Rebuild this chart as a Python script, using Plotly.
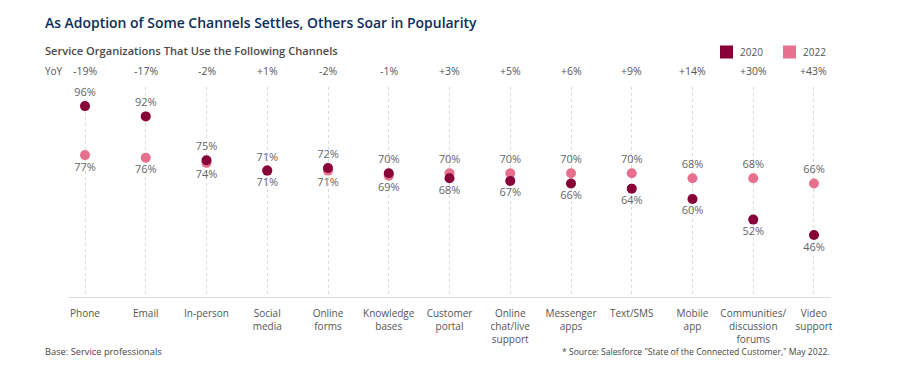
import plotly.graph_objects as go

categories = ["Phone", "Email", "In-person", "Social<br>media", "Online<br>forms",
              "Knowledge<br>bases", "Customer<br>portal", "Online<br>chat/live<br>support",
              "Messenger<br>apps", "Text/SMS", "Mobile<br>app",
              "Communities/<br>discussion<br>forums", "Video<br>support"]
values_2020 = [96, 92, 75, 71, 72, 70, 68, 67, 66, 64, 60, 52, 46]
values_2022 = [77, 76, 74, 71, 71, 69, 70, 70, 70, 70, 68, 68, 66]
yoy_labels = ["-19%", "-17%", "-2%", "+1%", "-2%", "-1%", "+3%", "+5%", "+6%",
              "+9%", "+14%", "+30%", "+43%"]
series_names = ["2020", "2022"]

C2020 = "#880038"
C2022 = "#E8708F"
FONT = "Open Sans"

x_idx = list(range(len(categories)))

pos20 = ["top center" if a >= b else "bottom center" for a, b in zip(values_2020, values_2022)]
pos22 = ["bottom center" if a >= b else "top center" for a, b in zip(values_2020, values_2022)]

fig = go.Figure()
fig.add_trace(go.Scatter(
    x=x_idx, y=values_2022, mode="markers+text", name="2022",
    marker=dict(color=C2022, size=10), text=[f"{v}%" for v in values_2022],
    textposition=pos22, textfont=dict(family=FONT, size=11, color="#666666"),
    showlegend=False, cliponaxis=False))
fig.add_trace(go.Scatter(
    x=x_idx, y=values_2020, mode="markers+text", name="2020",
    marker=dict(color=C2020, size=10), text=[f"{v}%" for v in values_2020],
    textposition=pos20, textfont=dict(family=FONT, size=11, color="#666666"),
    showlegend=False, cliponaxis=False))

# page body has an 8px margin; work in page pixel coordinates
OFF = 8
W, H = 892, 370
L = 68 - OFF
R = W - (831 - OFF)
T = 87 - OFF
B = H - (297 - OFF)
pw, ph = W - L - R, H - T - B

def px(xp):
    return (xp - OFF - L) / pw

def py(yp):
    return (H - B - (yp - OFF)) / ph

annotations = []
annotations.append(dict(text="As Adoption of Some Channels Settles, Others Soar in Popularity",
                        xref="paper", yref="paper", x=px(43), y=py(22), xanchor="left",
                        yanchor="middle", showarrow=False,
                        font=dict(family=FONT, size=13.95, color="#0B2D5C", weight=600)))
annotations.append(dict(text="Service Organizations That Use the Following Channels",
                        xref="paper", yref="paper", x=px(43), y=py(51), xanchor="left",
                        yanchor="middle", showarrow=False,
                        font=dict(family=FONT, size=11.1, color="#4A4A4A", weight=600)))
annotations.append(dict(text="YoY", xref="paper", yref="paper", x=px(43), y=py(71),
                        xanchor="left", yanchor="middle", showarrow=False,
                        font=dict(family=FONT, size=10, color="#555555")))
for i, t in enumerate(yoy_labels):
    annotations.append(dict(text=t, xref="x", yref="paper", x=i, y=py(71),
                            xanchor="center", yanchor="middle", showarrow=False,
                            font=dict(family=FONT, size=10.5, color="#555555")))
annotations.append(dict(text="Base: Service professionals", xref="paper", yref="paper",
                        x=px(43), y=py(351), xanchor="left", yanchor="middle",
                        showarrow=False, font=dict(family=FONT, size=9.3, color="#444444")))
annotations.append(dict(text='* Source: Salesforce "State of the Connected Customer," May 2022.',
                        xref="paper", yref="paper", x=px(832), y=py(352), xanchor="right",
                        yanchor="middle", showarrow=False,
                        font=dict(family=FONT, size=8.6, color="#444444")))

shapes = [dict(type="line", xref="paper", yref="paper", x0=px(44), x1=px(92),
               y0=py(2), y1=py(2), line=dict(color="#DDDDDD", width=1))]

# legend (squares + labels)
legend_x = [720, 783]
for name, col, lx in zip(series_names, [C2020, C2022], legend_x):
    shapes.append(dict(type="rect", xref="paper", yref="paper", x0=px(lx), x1=px(lx + 13),
                       y0=py(58.5), y1=py(45.5), fillcolor=col, line=dict(width=0)))
    annotations.append(dict(text=name, xref="paper", yref="paper", x=px(lx + 18), y=py(52),
                            xanchor="left", yanchor="middle", showarrow=False,
                            font=dict(family=FONT, size=10, color="#555555")))

fig.update_layout(
    width=W, height=H, margin=dict(l=L, r=R, t=T, b=B, autoexpand=False),
    paper_bgcolor="white", plot_bgcolor="white",
    font=dict(family=FONT, color="#555555"),
    annotations=annotations, shapes=shapes, showlegend=False,
    xaxis=dict(range=[-0.28, 12.28], tickmode="array", tickvals=x_idx, ticktext=categories,
               showgrid=True, gridcolor="#DADADA", griddash="dot", gridwidth=1,
               showline=True, linecolor="#DCDCDC", linewidth=1, zeroline=False,
               ticks="", ticklabelstandoff=7,
               tickfont=dict(family=FONT, size=10, color="#555555"),
               fixedrange=True),
    yaxis=dict(range=[22, 103.4], visible=False, showgrid=False, zeroline=False,
               fixedrange=True),
)

fig.write_html("out.html")
